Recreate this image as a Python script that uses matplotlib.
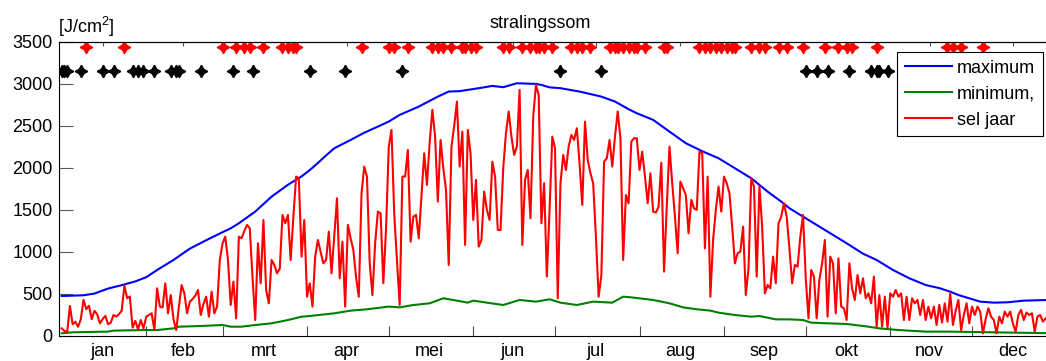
import numpy as np
import matplotlib
matplotlib.use("Agg")
import matplotlib.pyplot as plt

plt.rcParams["font.family"] = ["Liberation Sans", "DejaVu Sans"]
plt.rcParams["mathtext.default"] = "regular"

months = ["jan", "feb", "mrt", "apr", "mei", "jun", "jul", "aug", "sep", "okt", "nov", "dec"]
month_lengths = [31, 28, 31, 30, 31, 30, 31, 31, 30, 31, 30, 31]

# daily radiation sum of the selected year [J/cm2]
sel_jaar = [
    91, 60, 45, 357, 140, 170, 110, 200, 430, 320,
    360, 200, 300, 260, 150, 200, 240, 140, 160, 250,
    230, 260, 300, 600, 450, 470, 100, 180, 80, 190,
    91, 230, 250, 270, 71, 568, 350, 340, 627, 270,
    488, 200, 71, 350, 607, 508, 270, 409, 440, 480,
    548, 250, 380, 468, 230, 528, 270, 350, 905, 1100,
    1183, 905, 369, 647, 210, 1183, 1163, 1250, 1322, 1282,
    700, 190, 1104, 627, 1381, 548, 389, 905, 845, 746,
    800, 1441, 1342, 1441, 905, 1421, 1898, 1878, 945, 1381,
    468, 627, 350, 945, 1143, 1000, 865, 905, 1243, 746,
    1200, 1640, 687, 1123, 350, 1322, 1163, 1024, 700, 468,
    1699, 2017, 1898, 865, 488, 1104, 1481, 1461, 627, 1282,
    2255, 2453, 1461, 900, 369, 1898, 1898, 2215, 1123, 1421,
    1441, 1163, 1659, 2175, 1798, 2300, 2692, 2374, 1600, 2334,
    2000, 1739, 845, 2255, 2500, 2791, 2017, 2433, 1084, 2453,
    2175, 1381, 1858, 1064, 1143, 1719, 1500, 1381, 2076, 1898,
    1262, 1262, 2000, 2414, 2672, 2374, 2156, 2255, 2930, 1084,
    1858, 1977, 1401, 2612, 2989, 2870, 1342, 1818, 707, 1500,
    2374, 2235, 449, 1818, 2156, 1977, 2255, 2394, 2334, 2473,
    2056, 1560, 2553, 2096, 1937, 1818, 1183, 468, 726, 2076,
    2116, 2334, 2017, 2374, 2672, 2350, 905, 1679, 1580, 2315,
    2354, 2354, 1977, 2195, 1898, 1580, 1937, 1481, 1469, 1540,
    2064, 766, 1540, 2255, 1818, 1421, 985, 1838, 1759, 1679,
    1223, 1620, 1520, 1501, 2195, 2175, 1044, 1898, 468, 1143,
    1500, 1779, 1481, 1898, 1818, 1699, 1300, 865, 985, 1004,
    1302, 488, 806, 1878, 1779, 707, 1779, 1302, 508, 607,
    568, 945, 627, 1342, 1421, 1580, 1421, 1044, 627, 845,
    826, 1183, 1441, 687, 210, 786, 707, 210, 667, 865,
    1143, 230, 945, 865, 270, 925, 350, 330, 190, 865,
    568, 429, 726, 508, 687, 449, 508, 389, 707, 111,
    488, 111, 468, 99, 508, 468, 548, 468, 508, 190,
    468, 190, 449, 389, 429, 250, 429, 190, 350, 210,
    350, 131, 370, 160, 389, 171, 508, 131, 300, 429,
    71, 250, 389, 151, 350, 250, 350, 290, 32, 200,
    330, 230, 190, 32, 230, 151, 290, 230, 290, 150,
    52, 250, 310, 190, 280, 250, 270, 52, 230, 250,
    171, 210, 190, 220, 180,
]

# long-term maximum per day of year
max_days = [1, 9, 13, 18, 23, 28, 32, 36, 42, 48, 54, 59, 63, 66, 72, 78, 84, 89, 92,
            95, 98, 101, 107, 112, 117, 121, 125, 132, 139, 143, 147, 150, 154, 159, 163,
            168, 175, 177, 180, 184, 191, 199, 204, 209, 212, 218, 224, 230, 236, 242,
            248, 254, 260, 265, 268, 271, 277, 283, 289, 295, 300, 306, 312, 318, 323,
            327, 330, 338, 343, 348, 354, 363, 366]
max_vals = [476, 485, 505, 565, 605, 650, 700, 786, 905, 1040, 1140, 1220, 1282, 1342,
            1481, 1659, 1800, 1900, 1975, 2060, 2150, 2235, 2334, 2420, 2493, 2553, 2632, 2731,
            2850, 2910, 2915, 2930, 2950, 2977, 2962, 3009, 3001, 2989, 2960, 2950, 2910,
            2850, 2791, 2700, 2652, 2573, 2433, 2295, 2200, 2116, 1997, 1878, 1719, 1600,
            1521, 1461, 1342, 1223, 1104, 980, 905, 786, 687, 607, 570, 528, 488, 409,
            397, 401, 421, 429, 429]

# long-term minimum per day of year
min_days = [1, 5, 18, 20, 31, 36, 42, 44, 52, 60, 63, 67, 72, 78, 84, 89, 92, 101, 107,
            113, 121, 125, 130, 136, 141, 146, 150, 152, 157, 163, 169, 175, 180, 184,
            190, 196, 203, 207, 210, 218, 224, 229, 234, 239, 242, 248, 254, 257, 263,
            268, 273, 276, 282, 289, 297, 301, 308, 318, 327, 366]
min_vals = [32, 44, 52, 64, 71, 71, 91, 111, 119, 131, 111, 111, 131, 151, 190, 230,
            238, 270, 302, 318, 350, 341, 369, 389, 449, 421, 397, 421, 397, 369, 429,
            409, 437, 397, 369, 409, 397, 468, 460, 429, 389, 341, 318, 302, 278, 250,
            230, 238, 198, 198, 190, 159, 151, 143, 111, 91, 71, 52, 52, 32]

# days flagged as sunny (red) and dull (black)
sunny_days = [10, 24, 60, 65, 68, 70, 75, 82, 84, 86, 87, 111, 121, 123, 128, 137, 139,
              141, 144, 148, 149, 151, 153, 163, 165, 170, 173, 175, 176, 178, 181, 188,
              190, 192, 195, 202, 204, 205, 207, 209, 211, 212, 215, 222, 223, 235, 237,
              239, 241, 243, 245, 247, 248, 254, 257, 259, 264, 267, 273, 281, 286, 289,
              291, 300, 326, 328, 331, 339]
dull_days = [1, 2, 3, 8, 16, 20, 27, 29, 31, 35, 41, 43, 44, 52, 64, 71, 92, 105, 126,
             184, 199, 274, 278, 282, 290, 298, 300, 301, 304]
SUNNY_LEVEL = 3440
DULL_LEVEL = 3150

days = np.arange(1, len(sel_jaar) + 1)
month_start = np.cumsum([1] + month_lengths[:-1])
month_mid = month_start + np.array(month_lengths) / 2 - 0.5

W, H = 1046, 361
fig = plt.figure(figsize=(W / 100, H / 100), dpi=100)
ax = fig.add_axes([59 / W, 25 / H, (1056.5 - 59) / W, 294 / H])

ax.plot(max_days, max_vals, color="#0000ff", lw=1.5, label="maximum")
ax.plot(min_days, min_vals, color="#008000", lw=1.5, label="minimum,")
ax.plot(days, sel_jaar, color="#ff0000", lw=1.5, label="sel jaar")
ax.plot(sunny_days, np.full(len(sunny_days), SUNNY_LEVEL), ls="none",
        marker=(4, 1, 0), ms=9, color="#ff0000")
ax.plot(dull_days, np.full(len(dull_days), DULL_LEVEL), ls="none",
        marker=(4, 1, 0), ms=9, color="black")

ax.set_xlim(0, 366)
ax.set_ylim(0, 3500)

ax.set_yticks(np.arange(0, 3501, 500))
ax.tick_params(axis="y", direction="in", length=10, width=0.8, color="0.35",
               labelsize=13, pad=4.5)

ax.set_xticks(month_start[1:])
ax.set_xticklabels([])
ax.tick_params(axis="x", which="major", direction="in", length=7, width=0.8,
               color="0.3")
ax.set_xticks(month_mid, minor=True)
ax.set_xticklabels(months, minor=True)
ax.tick_params(axis="x", which="minor", length=0, labelsize=13, pad=5)

top = ax.secondary_xaxis("top")
top.set_xticks(month_mid)
top.set_xticklabels([])
top.tick_params(direction="in", length=3, width=0.8, color="0.3")

for s in ax.spines.values():
    s.set_linewidth(0.8)

leg = ax.legend(loc="upper left", bbox_to_anchor=(897 / W, 1 - 52 / H),
                bbox_transform=fig.transFigure, borderaxespad=0, fontsize=13,
                handlelength=2.6, handletextpad=0.3, labelspacing=0.5,
                borderpad=0.42, fancybox=False, framealpha=1, edgecolor="black")
leg.get_frame().set_linewidth(0.8)

fig.text(540 / W, 1 - 23 / H, "stralingssom", ha="center", va="center", fontsize=13)
fig.text(58 / W, 1 - 27 / H, "[J/cm$^2$]", ha="left", va="center", fontsize=13)

fig.savefig("out.png", dpi=100)
